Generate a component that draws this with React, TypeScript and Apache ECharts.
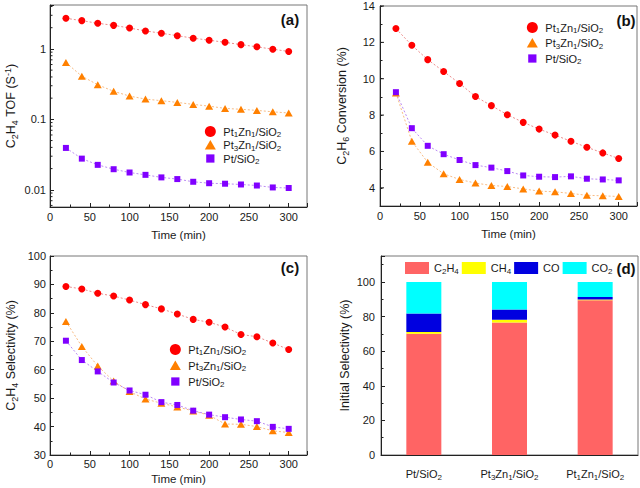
import React, { useEffect, useRef } from 'react';
import * as echarts from 'echarts';

const FF = '"Liberation Sans", Arial, sans-serif';
const TXT = '#1a1a1a';

// ---- data ----
const times = [20, 40, 60, 80, 100, 120, 140, 160, 180, 200, 220, 240, 260, 280, 300];
const catNames = ['Pt1Zn1/SiO2', 'Pt3Zn1/SiO2', 'Pt/SiO2'];

// (a) C2H4 TOF (s^-1)
const tofPt1Zn1 = [2.72, 2.52, 2.31, 2.16, 1.98, 1.8, 1.67, 1.54, 1.42, 1.33, 1.24, 1.15, 1.07, 0.99, 0.92];
const tofPt3Zn1 = [0.64, 0.41, 0.31, 0.25, 0.214, 0.194, 0.184, 0.174, 0.163, 0.154, 0.143, 0.139, 0.134, 0.128, 0.123];
const tofPt = [0.0393, 0.0277, 0.0226, 0.0196, 0.0176, 0.0163, 0.015, 0.0142, 0.013, 0.0124, 0.0122, 0.0119, 0.0115, 0.0108, 0.0106];

// (b) C2H6 conversion (%)
const convPt1Zn1 = [12.76, 11.84, 11.05, 10.4, 9.74, 9.02, 8.52, 8.02, 7.6, 7.23, 6.9, 6.56, 6.23, 5.92, 5.61];
const convPt3Zn1 = [9.22, 6.56, 5.4, 4.77, 4.46, 4.26, 4.13, 4.07, 3.94, 3.82, 3.78, 3.69, 3.59, 3.56, 3.52];
const convPt = [9.26, 7.28, 6.31, 5.85, 5.53, 5.25, 5.11, 4.92, 4.68, 4.61, 4.59, 4.63, 4.5, 4.46, 4.41];

// (c) C2H4 selectivity (%)
const selPt1Zn1 = [89.3, 88.4, 86.9, 85.9, 84.5, 82.9, 81.4, 79.6, 77.7, 76.7, 75.0, 72.4, 71.6, 69.4, 67.1];
const selPt3Zn1 = [77.0, 68.2, 61.3, 56.0, 52.3, 49.7, 48.2, 46.9, 45.5, 44.0, 40.9, 40.8, 40.0, 38.5, 37.9];
const selPt = [70.2, 63.4, 59.4, 55.5, 52.7, 51.2, 48.6, 47.6, 45.6, 44.2, 43.3, 42.5, 41.9, 39.9, 39.2];

// (d) initial selectivity (%)
const barCats = ['Pt/SiO2', 'Pt3Zn1/SiO2', 'Pt1Zn1/SiO2'];
const prodNames = ['C2H4', 'CH4', 'CO', 'CO2'];
const initC2H4 = [70.1, 76.6, 89.4];
const initCH4 = [1.0, 1.5, 0.4];
const initCO = [10.6, 6.0, 1.5];
const initCO2 = [18.3, 15.9, 8.7];

// tick positions
const logMinorTicks = [0.006, 0.007, 0.008, 0.009, 0.02, 0.03, 0.04, 0.05, 0.06, 0.07, 0.08, 0.09, 0.2, 0.3, 0.4, 0.5, 0.6, 0.7, 0.8, 0.9, 2, 3, 4];
const convMajorTicks = [4, 6, 8, 10, 12, 14];

const richLabels: Record<string, string> = {
  'Pt1Zn1/SiO2': '{n|Pt}{s|1}{n|Zn}{s|1}{n|/SiO}{s|2}',
  'Pt3Zn1/SiO2': '{n|Pt}{s|3}{n|Zn}{s|1}{n|/SiO}{s|2}',
  'Pt/SiO2': '{n|Pt/SiO}{s|2}',
  C2H4: '{n|C}{s|2}{n|H}{s|4}',
  CH4: '{n|CH}{s|4}',
  CO: '{n|CO}',
  CO2: '{n|CO}{s|2}',
};

const rich = {
  n: { fontSize: 11, fontFamily: FF, color: TXT, lineHeight: 14, fontWeight: 'normal' },
  s: { fontSize: 8, fontFamily: FF, color: TXT, lineHeight: 8, verticalAlign: 'bottom', fontWeight: 'normal' },
};
const richName = {
  N: { fontSize: 12.5, fontFamily: FF, color: TXT, lineHeight: 16, fontWeight: 'normal' },
  X: { fontSize: 11.5, fontFamily: FF, color: TXT, lineHeight: 14, fontWeight: 'normal' },
  S: { fontSize: 9, fontFamily: FF, color: TXT, lineHeight: 9, verticalAlign: 'bottom', fontWeight: 'normal' },
  P: { fontSize: 9, fontFamily: FF, color: TXT, lineHeight: 9, verticalAlign: 'top', fontWeight: 'normal' },
};

const colors: Record<string, string> = {
  'Pt1Zn1/SiO2': '#FF0000',
  'Pt3Zn1/SiO2': '#FF8000',
  'Pt/SiO2': '#8000FF',
};
const lineColors: Record<string, string> = {
  'Pt1Zn1/SiO2': 'rgba(230,110,110,0.8)',
  'Pt3Zn1/SiO2': 'rgba(245,170,100,0.8)',
  'Pt/SiO2': 'rgba(170,110,240,0.8)',
};
const symbols: Record<string, any> = {
  'Pt1Zn1/SiO2': { symbol: 'circle', size: 7 },
  'Pt3Zn1/SiO2': { symbol: 'triangle', size: [8, 7] },
  'Pt/SiO2': { symbol: 'rect', size: 6 },
};
const legendIcons: Record<string, string> = {
  'Pt1Zn1/SiO2': 'circle',
  'Pt3Zn1/SiO2': 'path://M0,0M16,12M8,0.5L14,11L2,11Z',
  'Pt/SiO2': 'path://M0,0M16,12M3.5,1.5h9v9h-9z',
};

const axisLineStyle = { color: '#222', width: 1 };
const nameStyle = { rich: richName, fontSize: 12.5, fontFamily: FF, color: TXT, fontWeight: 'normal' };

function xAxisTime(grid: number, nameGap: number, labelMargin: number) {
  return {
    type: 'value', gridIndex: grid, min: 0, max: 323, interval: 50,
    axisLine: { show: true, onZero: false, lineStyle: axisLineStyle },
    axisTick: { show: true, inside: true, length: 4, lineStyle: axisLineStyle },
    minorTick: { show: true, splitNumber: 2, length: 2.5, lineStyle: axisLineStyle },
    splitLine: { show: false },
    axisLabel: {
      fontSize: 11, fontFamily: FF, color: TXT, margin: labelMargin,
      formatter: (v: number) => (v % 50 === 0 && v <= 300 ? String(v) : ''),
    },
    name: '{X|Time (min)}', nameLocation: 'middle', nameGap,
    nameTextStyle: nameStyle,
  };
}

function tickSeries(grid: number, values: number[], len: number) {
  return {
    type: 'custom', xAxisIndex: grid, yAxisIndex: grid, silent: true, z: 5, clip: false,
    data: values.map((v) => [0, v]),
    renderItem: (_p: any, api: any) => {
      const pt = api.coord([0, api.value(1)]);
      return {
        type: 'line',
        shape: { x1: pt[0], y1: pt[1], x2: pt[0] + len, y2: pt[1] },
        style: { stroke: '#222', lineWidth: 1 },
      };
    },
  };
}

function lineSeries(grid: number, name: string, values: number[]) {
  return {
    type: 'line', name, xAxisIndex: grid, yAxisIndex: grid,
    data: times.map((t, i) => [t, values[i]]),
    symbol: symbols[name].symbol, symbolSize: symbols[name].size,
    itemStyle: { color: colors[name] },
    lineStyle: { color: lineColors[name], width: 1, type: [2, 2] },
    smooth: false, z: 3,
  };
}

function lineLegend(left: number, top: number, gap: number) {
  return {
    orient: 'vertical', left, top, padding: 0, itemWidth: 16, itemHeight: 11, itemGap: gap,
    data: catNames.map((n) => ({ name: n, icon: legendIcons[n] })),
    formatter: (n: string) => richLabels[n],
    textStyle: { rich, fontFamily: FF, fontSize: 11, color: TXT },
    selectedMode: false,
  };
}

function panelLabel(text: string, x: number, y: number) {
  return {
    type: 'text', x, y, z: 10,
    style: { text, font: `bold 15px ${FF}`, fill: '#111', align: 'center', verticalAlign: 'middle' },
  };
}

export default function App() {
  const ref = useRef<HTMLDivElement>(null);
  useEffect(() => {
    document.body.style.margin = '0';
    const chart = echarts.init(ref.current!, null, { renderer: 'svg' });
    const grids = [
      { left: 50, top: 5, width: 257, height: 202 },
      { left: 380, top: 6, width: 258, height: 200 },
      { left: 50, top: 256, width: 257, height: 199 },
      { left: 381, top: 256, width: 257, height: 199 },
    ].map((g) => ({ ...g, show: true, borderColor: '#777', borderWidth: 1, containLabel: false }));

    const yCommon = {
      axisLine: { show: true, onZero: false, lineStyle: axisLineStyle },
      splitLine: { show: false },
    };

    const option: any = {
      animation: false,
      backgroundColor: '#fff',
      grid: grids,
      xAxis: [
        xAxisTime(0, 21, 4),
        xAxisTime(1, 21, 4),
        xAxisTime(2, 17, 3),
        {
          type: 'category', gridIndex: 3, data: barCats,
          axisLine: { show: true, lineStyle: axisLineStyle },
          axisTick: { show: false },
          axisLabel: {
            interval: 0, hideOverlap: false,
            margin: 12, formatter: (v: string) => richLabels[v], rich,
            fontSize: 11, fontFamily: FF, color: TXT,
          },
        },
      ],
      yAxis: [
        {
          ...yCommon, type: 'log', gridIndex: 0, logBase: 10, min: 0.0057, max: 4.2,
          axisTick: { show: true, inside: true, length: 4, lineStyle: axisLineStyle },
          axisLabel: {
            fontSize: 11, fontFamily: FF, color: TXT, margin: 4,
            formatter: (v: number) => {
              const e = Math.log10(v);
              return Math.abs(e - Math.round(e)) < 1e-6 ? String(parseFloat(v.toPrecision(1))) : '';
            },
          },
          name: '{N|C}{S|2}{N|H}{S|4}{N| TOF (S}{P|-1}{N|)}',
          nameLocation: 'middle', nameGap: 31, nameRotate: 90,
          nameTextStyle: nameStyle,
        },
        {
          ...yCommon, type: 'value', gridIndex: 1, min: 3, max: 14, interval: 1,
          axisTick: { show: true, inside: true, length: 2.5, lineStyle: axisLineStyle },
          axisLabel: {
            fontSize: 11, fontFamily: FF, color: TXT, margin: 5,
            formatter: (v: number) => (v % 2 === 0 ? String(v) : ''),
          },
          name: '{N|C}{S|2}{N|H}{S|6}{N| Conversion (%)}',
          nameLocation: 'middle', nameGap: 30, nameRotate: 90,
          nameTextStyle: nameStyle,
        },
        {
          ...yCommon, type: 'value', gridIndex: 2, min: 30, max: 100, interval: 10,
          axisTick: { show: true, inside: true, length: 4, lineStyle: axisLineStyle },
          minorTick: { show: true, splitNumber: 2, length: 2.5, lineStyle: axisLineStyle },
          axisLabel: { fontSize: 11, fontFamily: FF, color: TXT, margin: 4 },
          name: '{N|C}{S|2}{N|H}{S|4}{N| Selectivity (%)}',
          nameLocation: 'middle', nameGap: 31, nameRotate: 90,
          nameTextStyle: nameStyle,
        },
        {
          ...yCommon, type: 'value', gridIndex: 3, min: 0, max: 115, interval: 20,
          axisTick: { show: true, inside: true, length: 4, lineStyle: axisLineStyle },
          minorTick: { show: true, splitNumber: 2, length: 2.5, lineStyle: axisLineStyle },
          axisLabel: {
            fontSize: 11, fontFamily: FF, color: TXT, margin: 6,
            formatter: (v: number) => (v <= 100 && v % 20 === 0 ? String(v) : ''),
          },
          name: '{N|Initial Selectivity (%)}',
          nameLocation: 'middle', nameGap: 28, nameRotate: 90,
          nameTextStyle: nameStyle,
        },
      ],
      legend: [
        lineLegend(203, 126, 1),
        lineLegend(525, 22, 3),
        lineLegend(168, 344, 3.5),
        {
          orient: 'horizontal', left: 405, top: 262, padding: 0, itemWidth: 24, itemHeight: 12, itemGap: 3,
          icon: 'rect', data: prodNames,
          formatter: (n: string) => richLabels[n],
          textStyle: { rich, fontFamily: FF, fontSize: 11, color: TXT },
          selectedMode: false,
        },
      ],
      series: [
        lineSeries(0, 'Pt1Zn1/SiO2', tofPt1Zn1),
        lineSeries(0, 'Pt3Zn1/SiO2', tofPt3Zn1),
        lineSeries(0, 'Pt/SiO2', tofPt),
        lineSeries(1, 'Pt1Zn1/SiO2', convPt1Zn1),
        lineSeries(1, 'Pt3Zn1/SiO2', convPt3Zn1),
        lineSeries(1, 'Pt/SiO2', convPt),
        lineSeries(2, 'Pt1Zn1/SiO2', selPt1Zn1),
        lineSeries(2, 'Pt3Zn1/SiO2', selPt3Zn1),
        lineSeries(2, 'Pt/SiO2', selPt),
        tickSeries(0, logMinorTicks, 2.5),
        tickSeries(1, convMajorTicks, 4),
        { type: 'bar', name: 'C2H4', stack: 'sel', xAxisIndex: 3, yAxisIndex: 3, barWidth: 35, data: initC2H4, itemStyle: { color: '#FF6464' } },
        { type: 'bar', name: 'CH4', stack: 'sel', xAxisIndex: 3, yAxisIndex: 3, barWidth: 35, data: initCH4, itemStyle: { color: '#FFFF00' } },
        { type: 'bar', name: 'CO', stack: 'sel', xAxisIndex: 3, yAxisIndex: 3, barWidth: 35, data: initCO, itemStyle: { color: '#0000E0' } },
        { type: 'bar', name: 'CO2', stack: 'sel', xAxisIndex: 3, yAxisIndex: 3, barWidth: 35, data: initCO2, itemStyle: { color: '#00FFFF' } },
      ],
      graphic: [
        panelLabel('(a)', 290, 19),
        panelLabel('(b)', 626, 20),
        panelLabel('(c)', 290, 267),
        panelLabel('(d)', 626, 268),
      ],
    };
    chart.setOption(option);
    return () => chart.dispose();
  }, []);
  return <div ref={ref} style={{ width: 640, height: 488 }} />;
}
